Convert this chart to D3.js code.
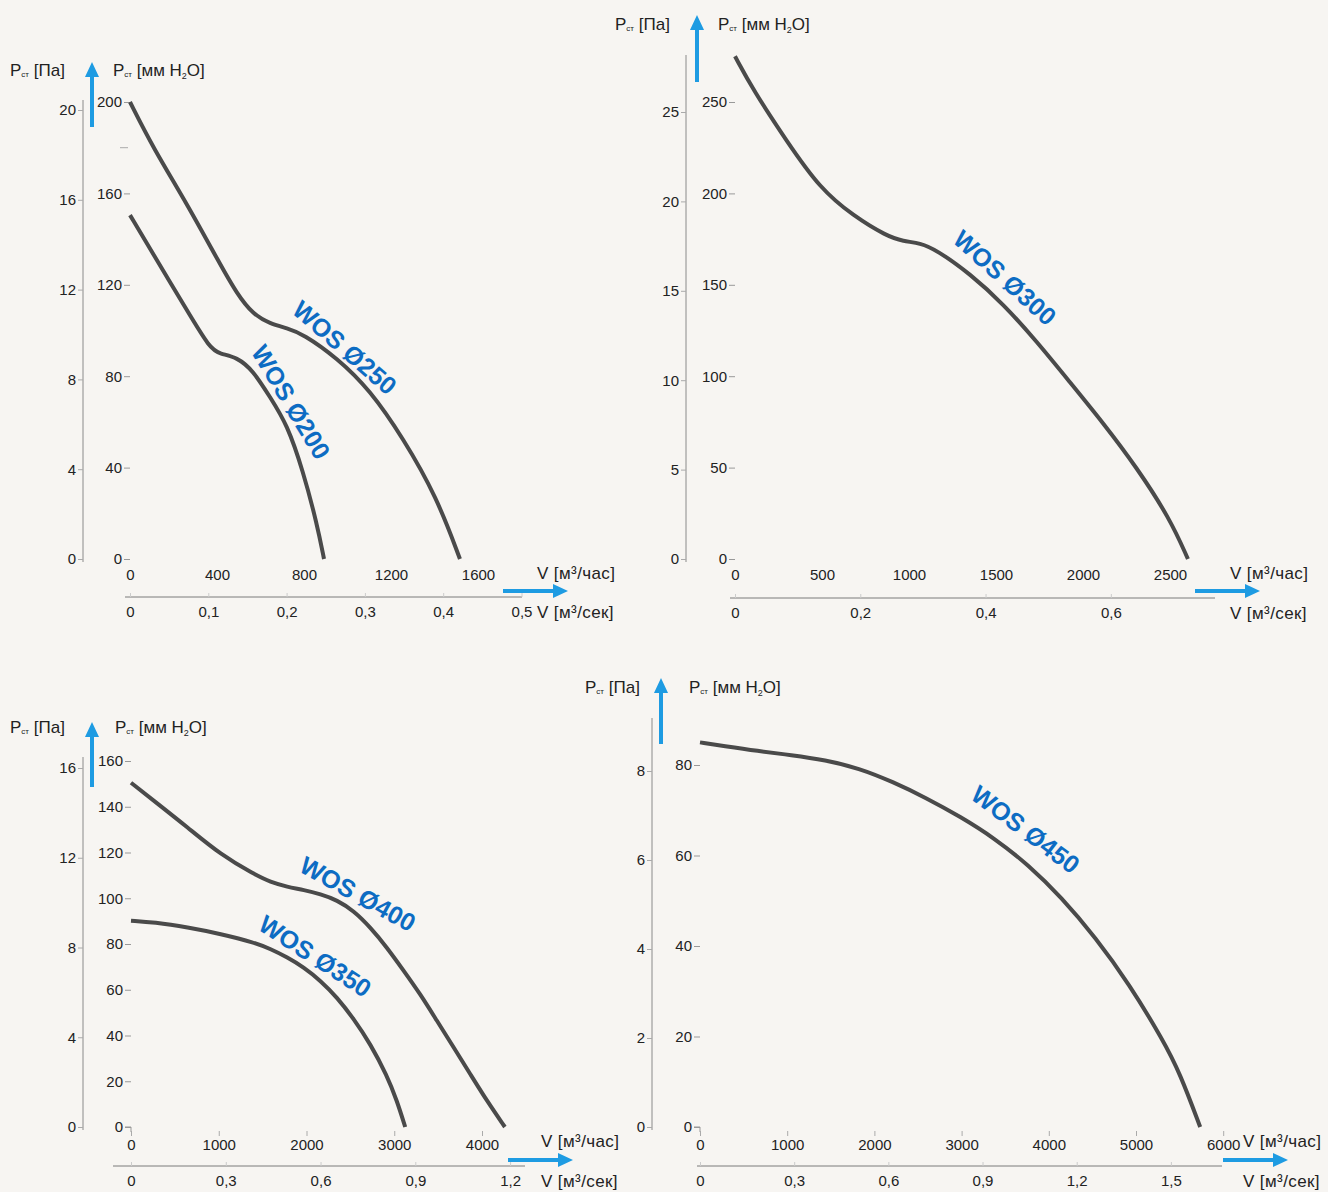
<!DOCTYPE html>
<html>
<head>
<meta charset="utf-8">
<script src="https://cdn.jsdelivr.net/npm/d3@7"></script>
<style>
  html, body { margin: 0; padding: 0; background: #f7f5f2; }
  svg { display: block; }
  text { font-family: "Liberation Sans", Arial, sans-serif; fill: #222; }
</style>
</head>
<body>
<svg id="chart" width="1328" height="1192"></svg>
<script>
// ---------------- DATA ----------------
// Panel 1 : WOS Ø200 / Ø250
const p1FlowTicks = [0, 400, 800, 1200, 1600];
const p1SecTicks  = [0, 0.1, 0.2, 0.3, 0.4, 0.5];
const p1PaTicks   = [0, 4, 8, 12, 16, 20];
const p1MmTicks   = [0, 40, 80, 120, 160, 200];
const p1MmMinor   = [180];
const wos250Flow = [0, 106, 262, 414, 492, 566, 644, 722, 795, 952, 1103, 1255, 1411, 1517];
const wos250P    = [200, 180, 155.5, 129, 116, 107, 103, 101, 98.5, 88, 74, 53, 27, 0];
const wos200Flow = [0, 106, 262, 368, 414, 492, 566, 644, 722, 795, 860, 892];
const wos200P    = [150.5, 133.6, 108.8, 92, 89.8, 88.3, 82.5, 70.8, 59, 38.7, 15.3, 0];

// Panel 2 : WOS Ø300
const p2FlowTicks = [0, 500, 1000, 1500, 2000, 2500];
const p2SecTicks  = [0, 0.2, 0.4, 0.6];
const p2PaTicks   = [0, 5, 10, 15, 20, 25];
const p2MmTicks   = [0, 50, 100, 150, 200, 250];
const wos300Flow = [0, 105, 297, 489, 680, 872, 968, 1063, 1159, 1351, 1543, 1734, 1925, 2117, 2308, 2500, 2603];
const wos300P    = [275, 256.5, 228.6, 202.6, 187.7, 176.6, 173.8, 172.9, 169, 156, 139.4, 119, 96.7, 74.3, 50.2, 22, 0];

// Panel 3 : WOS Ø350 / Ø400
const p3FlowTicks = [0, 1000, 2000, 3000, 4000];
const p3SecTicks  = [0, 0.3, 0.6, 0.9, 1.2];
const p3PaTicks   = [0, 4, 8, 12, 16];
const p3MmTicks   = [0, 20, 40, 60, 80, 100, 120, 140, 160];
const wos400Flow = [0, 265, 644, 1023, 1402, 1591, 1780, 1970, 2159, 2348, 2538, 2727, 2917, 3106, 3295, 3485, 3674, 3864, 4053, 4261];
const wos400P    = [150.5, 142.5, 131, 119, 110.5, 107, 105, 103.6, 101.8, 99.2, 94.5, 87.3, 78.5, 68.4, 58.2, 46.5, 35, 23.3, 11.6, 0];
const wos350Flow = [0, 265, 644, 1023, 1402, 1591, 1780, 1970, 2159, 2348, 2538, 2727, 2917, 3030, 3125];
const wos350P    = [90.2, 89.5, 87.3, 84.4, 80.7, 77.8, 74.2, 69.8, 64, 56.7, 47.3, 36.4, 22.5, 11.6, 0];

// Panel 4 : WOS Ø450
const p4FlowTicks = [0, 1000, 2000, 3000, 4000, 5000, 6000];
const p4SecTicks  = [0, 0.3, 0.6, 0.9, 1.2, 1.5];
const p4PaTicks   = [0, 2, 4, 6, 8];
const p4MmTicks   = [0, 20, 40, 60, 80];
const wos450Flow = [0, 271, 659, 1047, 1434, 1822, 2209, 2597, 2984, 3372, 3760, 4147, 4535, 4922, 5310, 5504, 5736];
const wos450P    = [85, 84.2, 83.1, 82.2, 81.1, 79.3, 76.3, 72.7, 68.6, 63.9, 58, 50.7, 41.9, 31.6, 19.2, 11.9, 0];

const curveNames = ["WOS Ø250", "WOS Ø200", "WOS Ø300", "WOS Ø400", "WOS Ø350", "WOS Ø450"];

// ---------------- DRAWING ----------------
const svg = d3.select("#chart");
const BLUE = "#1e9be2";
const LABEL_BLUE = "#0d6cc3";
const CURVE = "#4a4a4a";
const secFmt = v => String(v).replace(".", ",");

function upArrow(g, x, yBottom, yTop) {
  g.append("rect").attr("x", x - 2).attr("y", yTop + 12).attr("width", 4).attr("height", yBottom - yTop - 12).attr("fill", BLUE);
  g.append("path").attr("d", `M${x - 7},${yTop + 15} L${x},${yTop} L${x + 7},${yTop + 15} Z`).attr("fill", BLUE);
}
function rightArrow(g, xLeft, xRight, y) {
  g.append("rect").attr("x", xLeft).attr("y", y - 2).attr("width", xRight - xLeft - 12).attr("height", 4).attr("fill", BLUE);
  g.append("path").attr("d", `M${xRight - 15},${y - 7} L${xRight},${y} L${xRight - 15},${y + 7} Z`).attr("fill", BLUE);
}
function pTitle(g, x, y, unit) {
  const t = g.append("text").attr("x", x).attr("y", y).attr("font-size", 17);
  t.append("tspan").text("P");
  t.append("tspan").attr("font-size", 8).attr("dy", 1).text("ст");
  if (unit === "pa") {
    t.append("tspan").attr("dy", -1).text(" [Па]");
  } else {
    t.append("tspan").attr("dy", -1).text(" [мм H");
    t.append("tspan").attr("font-size", 9).attr("dy", 3).text("2");
    t.append("tspan").attr("dy", -3).text("O]");
  }
}
function styleAxisText(a) {
  a.selectAll("text").attr("font-size", 15).attr("fill", "#222").attr("font-family", "Liberation Sans, Arial");
}

function drawPanel(c) {
  const g = svg.append("g");
  const x = d3.scaleLinear().domain([0, c.flowMax]).range([c.x0, c.x0 + c.flowMax * c.pxPerFlow]);
  const y = d3.scaleLinear().domain([0, c.mmMax]).range([c.y0, c.yMmTop]);
  const yPa = d3.scaleLinear().domain([0, c.paMax]).range([c.y0, c.yPaTop]);

  // left Pa axis
  g.append("line").attr("x1", c.paAxisX).attr("x2", c.paAxisX)
    .attr("y1", c.paLineTop).attr("y2", c.y0 + 3).attr("stroke", "#8a8a8a").attr("stroke-width", 1);
  const aPa = g.append("g").attr("transform", `translate(${c.paAxisX},0)`)
    .call(d3.axisLeft(yPa).tickValues(c.paTicks).tickSize(5).tickPadding(2).tickFormat(d3.format("d")));
  aPa.select(".domain").remove();
  aPa.selectAll(".tick line").attr("stroke", "#aaa");
  styleAxisText(aPa);

  // inner mm axis
  const aMm = g.append("g").attr("transform", `translate(${c.x0},0)`)
    .call(d3.axisLeft(y).tickValues(c.mmTicks).tickSize(6).tickPadding(2).tickFormat(d3.format("d")));
  aMm.select(".domain").remove();
  aMm.selectAll(".tick line").attr("stroke", "#999");
  styleAxisText(aMm);
  if (c.corner) {
    g.append("path").attr("d", `M${c.x0 - 6},${c.y0} h6 v5`).attr("fill", "none").attr("stroke", "#999");
  }
  if (c.mmMinor) {
    c.mmMinor.forEach(v => g.append("line").attr("x1", c.x0 - 10).attr("x2", c.x0 - 2)
      .attr("y1", y(v)).attr("y2", y(v)).attr("stroke", "#aaa"));
  }

  // top flow axis (m3/h)
  const aF = g.append("g").attr("transform", `translate(0,${c.flowAxisY})`)
    .call(d3.axisBottom(x).tickValues(c.flowTicks).tickSize(c.flowTickSize).tickPadding(c.flowPad).tickFormat(d3.format("d")));
  aF.select(".domain").remove();
  aF.selectAll(".tick line").attr("stroke", "#aaa");
  styleAxisText(aF);

  // bottom sec axis (m3/s)
  g.append("line").attr("x1", c.secLine[0]).attr("x2", c.secLine[1])
    .attr("y1", c.secY).attr("y2", c.secY).attr("stroke", "#7a7a7a");
  const xs = d3.scaleLinear().domain([0, 1]).range([x(0), x(3600)]);
  const aS = g.append("g").attr("transform", `translate(0,${c.secY})`)
    .call(d3.axisBottom(xs).tickValues(c.secTicks).tickSize(-4).tickPadding(9).tickFormat(secFmt));
  aS.select(".domain").remove();
  aS.selectAll(".tick line").attr("stroke", "#ccc");
  styleAxisText(aS);

  // titles
  pTitle(g, c.paTitle[0], c.paTitle[1], "pa");
  pTitle(g, c.mmTitle[0], c.mmTitle[1], "mm");
  g.append("text").attr("x", c.vTitleX).attr("y", c.flowAxisY + (c.vHourDy)).attr("font-size", 17).attr("letter-spacing", 0.4).text("V [м³/час]");
  g.append("text").attr("x", c.vTitleX).attr("y", c.secY + 21).attr("font-size", 17).attr("letter-spacing", 0.4).text("V [м³/сек]");

  upArrow(g, c.upArrow[0], c.upArrow[1], c.upArrow[2]);
  rightArrow(g, c.rArrow[0], c.rArrow[1], c.rArrow[2]);

  // curves
  const line = d3.line().x(d => x(d[0])).y(d => y(d[1])).curve(d3.curveBasis);
  c.curves.forEach(cv => {
    const pts = cv.flow.map((f, i) => [f, cv.p[i]]);
    g.append("path").attr("d", line(pts)).attr("fill", "none")
      .attr("stroke", CURVE).attr("stroke-width", 4).attr("stroke-linecap", "butt");
    const rad = cv.angle * Math.PI / 180, off = 6;
    const lx = cv.lx + off * Math.sin(rad), ly = cv.ly - off * Math.cos(rad);
    g.append("text").attr("transform", `translate(${lx},${ly}) rotate(${cv.angle})`)
      .attr("text-anchor", "middle").attr("dominant-baseline", "central")
      .attr("font-size", 25).attr("font-weight", "bold")
      .style("fill", LABEL_BLUE).text(cv.name);
  });
}

drawPanel({
  flowMax: 1600, pxPerFlow: 0.2175, x0: 130, y0: 559, yMmTop: 102, mmMax: 200, paMax: 20, yPaTop: 110,
  paAxisX: 83, paLineTop: 100, paTicks: p1PaTicks, mmTicks: p1MmTicks, mmMinor: p1MmMinor,
  flowTicks: p1FlowTicks, flowAxisY: 562, flowTickSize: 0, flowPad: 7,
  secTicks: p1SecTicks, secY: 597, secLine: [125, 522],
  paTitle: [10, 76], mmTitle: [113, 76], vTitleX: 537, vHourDy: 17,
  upArrow: [92, 127, 62], rArrow: [503, 568, 591],
  curves: [
    {name: curveNames[0], flow: wos250Flow, p: wos250P, lx: 341, ly: 352, angle: 41},
    {name: curveNames[1], flow: wos200Flow, p: wos200P, lx: 286, ly: 405, angle: 59}
  ]
});
drawPanel({
  flowMax: 2600, pxPerFlow: 0.174, x0: 735, y0: 559, yMmTop: 102, mmMax: 250, paMax: 25, yPaTop: 112,
  paAxisX: 686, paLineTop: 55, paTicks: p2PaTicks, mmTicks: p2MmTicks,
  flowTicks: p2FlowTicks, flowAxisY: 562, flowTickSize: 0, flowPad: 7,
  secTicks: p2SecTicks, secY: 598, secLine: [730, 1215],
  paTitle: [615, 30], mmTitle: [718, 30], vTitleX: 1230, vHourDy: 17,
  upArrow: [697, 82, 15], rArrow: [1195, 1260, 591],
  curves: [
    {name: curveNames[2], flow: wos300Flow, p: wos300P, lx: 1001, ly: 282, angle: 42}
  ]
});
drawPanel({
  flowMax: 4300, pxPerFlow: 0.08775, x0: 131, y0: 1127, yMmTop: 761, mmMax: 160, paMax: 16, yPaTop: 768,
  paAxisX: 83, paLineTop: 757, paTicks: p3PaTicks, mmTicks: p3MmTicks, corner: true,
  flowTicks: p3FlowTicks, flowAxisY: 1131, flowTickSize: 5, flowPad: 3,
  secTicks: p3SecTicks, secY: 1166, secLine: [113, 525],
  paTitle: [10, 733], mmTitle: [115, 733], vTitleX: 541, vHourDy: 16,
  upArrow: [92, 787, 722], rArrow: [508, 573, 1160],
  curves: [
    {name: curveNames[3], flow: wos400Flow, p: wos400P, lx: 355, ly: 899, angle: 29},
    {name: curveNames[4], flow: wos350Flow, p: wos350P, lx: 312, ly: 961, angle: 33}
  ]
});
drawPanel({
  flowMax: 6000, pxPerFlow: 0.0872, x0: 700, y0: 1127, yMmTop: 765, mmMax: 80, paMax: 8, yPaTop: 771,
  paAxisX: 652, paLineTop: 718, paTicks: p4PaTicks, mmTicks: p4MmTicks, corner: true,
  flowTicks: p4FlowTicks, flowAxisY: 1131, flowTickSize: 5, flowPad: 3,
  secTicks: p4SecTicks, secY: 1166, secLine: [697, 1222],
  paTitle: [585, 693], mmTitle: [689, 693], vTitleX: 1243, vHourDy: 16,
  upArrow: [661, 744, 678], rArrow: [1223, 1288, 1160],
  curves: [
    {name: curveNames[5], flow: wos450Flow, p: wos450P, lx: 1022, ly: 834, angle: 37}
  ]
});
</script>
</body>
</html>
